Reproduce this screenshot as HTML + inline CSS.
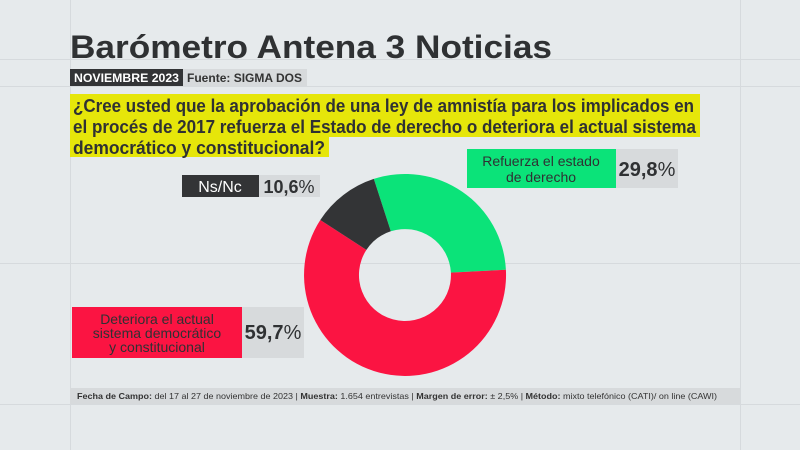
<!DOCTYPE html>
<html><head><meta charset="utf-8"><style>
html,body{margin:0;padding:0;background:#e6eaec;}
svg{display:block;font-family:"Liberation Sans",sans-serif;}
</style></head><body>
<svg width="800" height="450" viewBox="0 0 800 450">
<rect width="800" height="450" fill="#e6eaec"/>
<g stroke="#d6dadd" stroke-width="1">
<line x1="70.5" y1="0" x2="70.5" y2="450"/>
<line x1="740.5" y1="0" x2="740.5" y2="450"/>
<line x1="0" y1="59.5" x2="800" y2="59.5"/>
<line x1="0" y1="86.5" x2="800" y2="86.5"/>
<line x1="0" y1="263.5" x2="800" y2="263.5"/>
<line x1="0" y1="404.5" x2="800" y2="404.5"/>
</g>
<text x="70" y="58" font-size="32" font-weight="bold" fill="#2f3133" textLength="482" lengthAdjust="spacingAndGlyphs">Barómetro Antena 3 Noticias</text>
<rect x="70" y="69" width="113" height="17" fill="#333436"/>
<rect x="183" y="69" width="124" height="17" fill="#d7dadc"/>
<text x="74" y="82" font-size="12" font-weight="bold" fill="#fff" textLength="105" lengthAdjust="spacingAndGlyphs">NOVIEMBRE 2023</text>
<text x="187" y="82" font-size="12" font-weight="bold" fill="#333" textLength="115" lengthAdjust="spacingAndGlyphs">Fuente: SIGMA DOS</text>
<rect x="70" y="94" width="630" height="43" fill="#e6e60a"/>
<rect x="70" y="137" width="259" height="20" fill="#e6e60a"/>
<g font-size="18" font-weight="bold" fill="#2f3133">
<text x="73" y="112" textLength="621" lengthAdjust="spacingAndGlyphs">¿Cree usted que la aprobación de una ley de amnistía para los implicados en</text>
<text x="73" y="133" textLength="623" lengthAdjust="spacingAndGlyphs">el procés de 2017 refuerza el Estado de derecho o deteriora el actual sistema</text>
<text x="73" y="154" textLength="252" lengthAdjust="spacingAndGlyphs">democrático y constitucional?</text>
</g>
<path d="M373.8,178.9 A101 101 0 0 1 505.9,269.7 L450.9,272.6 A46 46 0 0 0 390.8,231.3 Z" fill="#0be379"/>
<path d="M505.9,269.7 A101 101 0 1 1 320.3,220 L366.4,249.9 A46 46 0 1 0 450.9,272.6 Z" fill="#fb1442"/>
<path d="M320.3,220 A101 101 0 0 1 373.8,178.9 L390.8,231.3 A46 46 0 0 0 366.4,249.9 Z" fill="#333436"/>
<rect x="467" y="149" width="149" height="39" fill="#0be379"/>
<rect x="616" y="149" width="62" height="39" fill="#d7dadc"/>
<text x="541" y="166" font-size="14" fill="#2f3133" text-anchor="middle">Refuerza el estado</text>
<text x="541" y="182" font-size="14" fill="#2f3133" text-anchor="middle">de derecho</text>
<text x="647" y="176" font-size="20" font-weight="bold" fill="#2f3133" text-anchor="middle">29,8<tspan font-weight="normal">%</tspan></text>
<rect x="182" y="175" width="77" height="22" fill="#333436"/>
<rect x="259" y="175" width="61" height="22" fill="#d7dadc"/>
<text x="220" y="192" font-size="16" fill="#fff" text-anchor="middle">Ns/Nc</text>
<text x="289" y="193" font-size="18" font-weight="bold" fill="#2f3133" text-anchor="middle">10,6<tspan font-weight="normal">%</tspan></text>
<rect x="72" y="307" width="170" height="51" fill="#fb1442"/>
<rect x="242" y="307" width="62" height="51" fill="#d7dadc"/>
<g font-size="14" fill="#2f3133" text-anchor="middle">
<text x="157" y="324">Deteriora el actual</text>
<text x="157" y="338">sistema democrático</text>
<text x="157" y="352">y constitucional</text>
</g>
<text x="273" y="339" font-size="20" font-weight="bold" fill="#2f3133" text-anchor="middle">59,7<tspan font-weight="normal">%</tspan></text>
<rect x="70" y="388" width="670" height="16" fill="#d7dadc"/>
<text x="77" y="399" font-size="8.5" fill="#333" textLength="640" lengthAdjust="spacingAndGlyphs"><tspan font-weight="bold">Fecha de Campo:</tspan> del 17 al 27 de noviembre de 2023 | <tspan font-weight="bold">Muestra:</tspan> 1.654 entrevistas | <tspan font-weight="bold">Margen de error:</tspan> ± 2,5% | <tspan font-weight="bold">Método:</tspan> mixto telefónico (CATI)/ on line (CAWI)</text>
</svg>
</body></html>
